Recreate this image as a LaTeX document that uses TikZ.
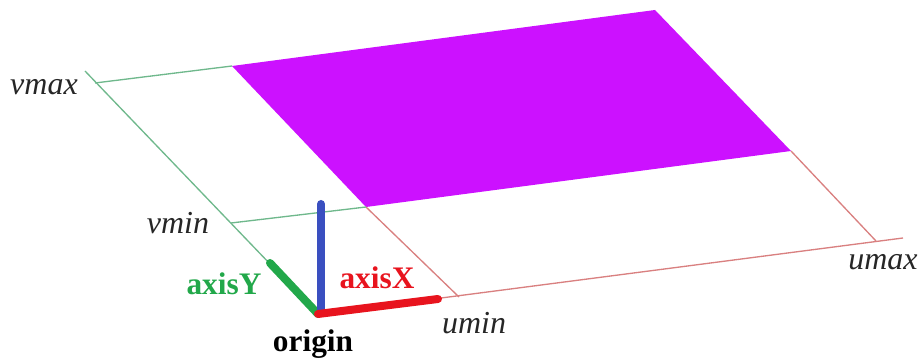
\documentclass[tikz,border=0pt]{standalone}
\usepackage{fontspec}
\setmainfont{Liberation Serif}
\definecolor{patchmagenta}{HTML}{CC11FF}
\definecolor{lineX}{HTML}{D98080}
\definecolor{lineY}{HTML}{6FB88C}
\definecolor{axisred}{HTML}{E8141E}
\definecolor{axisgreen}{HTML}{22A84A}
\definecolor{axisblue}{HTML}{3A4FC0}
\tikzset{
  gridline/.style={line width=1pt},
  axisline/.style={line width=6pt, line cap=round},
  paramlabel/.style={font=\fontsize{24}{26}\selectfont\itshape, text=black!85},
  axislabel/.style={font=\fontsize{23.5}{26}\selectfont\bfseries}
}

\begin{document}
\begin{tikzpicture}[x=0.75pt, y=-0.75pt]
  \useasboundingbox (0,0) rectangle (922,363);

  %% corners of the parameter range
  \coordinate (origin) at (318,314);
  \coordinate (tipX) at (438,299);
  \coordinate (tipY) at (270,263);
  \coordinate (tipZ) at (321,204);
  \coordinate (baseZ) at (321,310);
  \coordinate (patchA) at (232,66);
  \coordinate (patchB) at (655,10);
  \coordinate (patchC) at (791,151);
  \coordinate (patchD) at (366,207);
  \coordinate (uminEnd) at (459,297);
  \coordinate (umaxEnd) at (876,241);
  \coordinate (uEnd) at (903,238);
  \coordinate (vmaxEnd) at (95,83);
  \coordinate (vminEnd) at (231,223);
  \coordinate (vEnd) at (85,71);

  %% surface patch
  \fill[patchmagenta] (patchA) -- (patchB) -- (patchC) -- (patchD) -- cycle;

  %% u lines
  \draw[lineX, gridline] (origin) -- (uEnd);
  \draw[lineX, gridline] (patchD) -- (uminEnd);
  \draw[lineX, gridline] (patchC) -- (umaxEnd);

  %% v lines
  \draw[lineY, gridline] (origin) -- (vEnd);
  \draw[lineY, gridline] (vmaxEnd) -- (patchA);
  \draw[lineY, gridline] (vminEnd) -- (patchD);

  %% axes
  \draw[axisgreen, axisline] (origin) -- (tipY);
  \draw[axisblue, axisline] (baseZ) -- (tipZ);
  \draw[axisred, axisline] (origin) -- (tipX);

  %% labels
  \node[paramlabel] (vmax) at (44,87) {vmax};
  \node[paramlabel] (vmin) at (178,223) {vmin};
  \node[paramlabel] (umin) at (474,323) {umin};
  \node[paramlabel] (umax) at (883,262) {umax};
  \node[axislabel, axisgreen] (axisY) at (224,284) {axisY};
  \node[axislabel, axisred] (axisX) at (377,278) {axisX};
  \node[axislabel, black] (originlabel) at (313,344) {origin};
\end{tikzpicture}
\end{document}
